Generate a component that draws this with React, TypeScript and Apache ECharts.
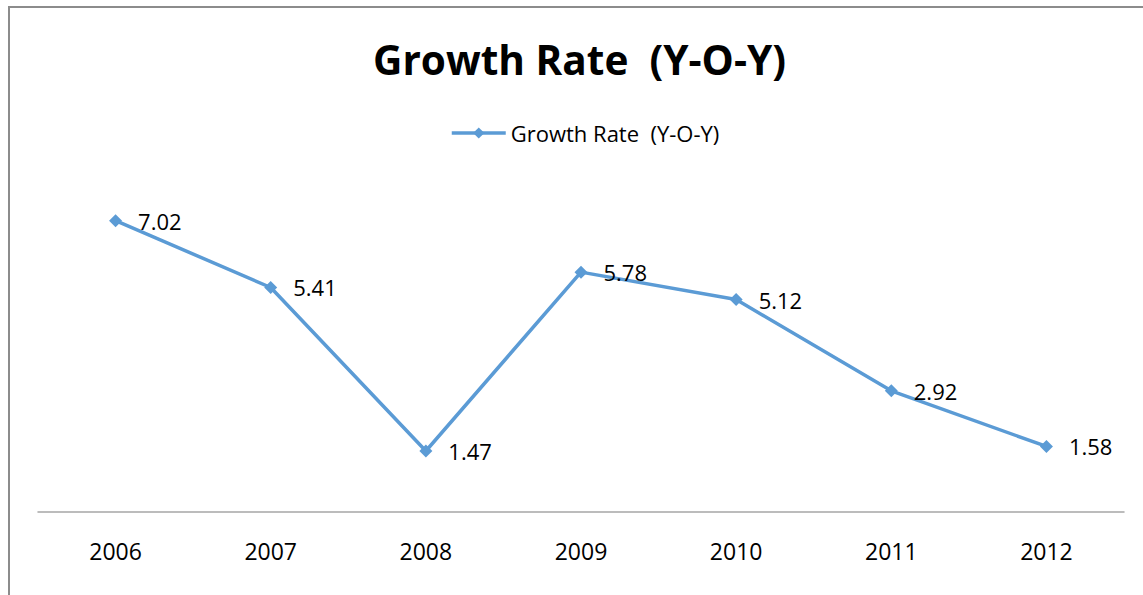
import React, { useEffect, useRef } from "react";
import * as echarts from "echarts";

const years = ["2006", "2007", "2008", "2009", "2010", "2011", "2012"];
const growthRate = [7.02, 5.41, 1.47, 5.78, 5.12, 2.92, 1.58];
const seriesName = "Growth Rate  (Y-O-Y)";
const titleText = "Growth Rate  (Y-O-Y)";

const FONT = "'Open Sans', 'Noto Sans', sans-serif";
const LINE_COLOR = "#5B9BD5";

export default function App() {
  const ref = useRef<HTMLDivElement>(null);

  useEffect(() => {
    if (!ref.current) return;
    const chart = echarts.init(ref.current, undefined, { renderer: "svg" });
    chart.setOption({
      animation: false,
      backgroundColor: "#ffffff",
      title: {
        text: titleText,
        left: 368,
        top: 34,
        textStyle: { fontFamily: FONT, fontWeight: "bold", fontSize: 40.6, color: "#000" },
      },
      legend: {
        data: [seriesName],
        top: 117,
        left: 445,
        itemWidth: 54,
        itemHeight: 14,
        lineStyle: { width: 3.5, color: LINE_COLOR },
        itemStyle: { color: LINE_COLOR },
        textStyle: { fontFamily: FONT, fontSize: 22, color: "#000" },
      },
      grid: { left: 38, right: 19, top: 180, bottom: 83 },
      xAxis: {
        type: "category",
        data: years,
        boundaryGap: true,
        axisLine: { lineStyle: { color: "#a6a6a6", width: 1.5 } },
        axisTick: { show: false },
        axisLabel: { fontFamily: FONT, fontSize: 23, color: "#000", margin: 27 },
      },
      yAxis: {
        type: "value",
        min: 0,
        max: 8,
        show: false,
        splitLine: { show: false },
      },
      series: [
        {
          name: seriesName,
          type: "line",
          data: growthRate,
          symbol: "diamond",
          symbolSize: 13,
          lineStyle: { color: LINE_COLOR, width: 3.5 },
          itemStyle: { color: LINE_COLOR },
          label: {
            show: true,
            position: "right",
            distance: 16,
            fontFamily: FONT,
            fontSize: 22,
            color: "#000",
          },
        },
      ],
      graphic: [
        {
          type: "rect",
          shape: { x: 9, y: 7, width: 1150, height: 600 },
          style: { fill: "none", stroke: "#8c8c8c", lineWidth: 2 },
          silent: true,
        },
      ],
    });
    return () => chart.dispose();
  }, []);

  return (
    <div
      ref={ref}
      style={{ position: "fixed", left: 0, top: 0, width: 1143, height: 595 }}
    />
  );
}
